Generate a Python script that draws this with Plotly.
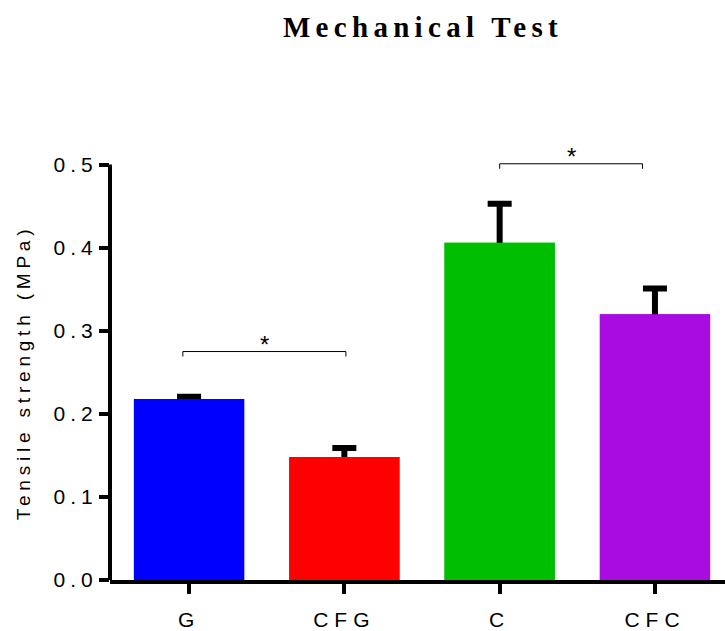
import plotly.graph_objects as go

# ---- data ----
groups = ["G", "CFG", "C", "CFC"]
strength = [0.218, 0.148, 0.406, 0.320]
sem = [0.0025, 0.0108, 0.047, 0.031]
bar_colors = ["#0000FF", "#FF0000", "#00BF00", "#A90CE0"]
y_ticks = [0.0, 0.1, 0.2, 0.3, 0.4, 0.5]
y_tick_labels = ["0.0", "0.1", "0.2", "0.3", "0.4", "0.5"]
# significance brackets (start, end on category positions, level)
sig_x0 = [-0.04, 2.0]
sig_x1 = [1.01, 2.92]
sig_y = [0.275, 0.501]
sig_text = ["*", "*"]

xpos = list(range(len(groups)))
SANS = "Liberation Sans, Arial, sans-serif"


def spaced(t, px):
    return f'<span style="letter-spacing:{px}px">{t}</span>'


fig = go.Figure()
# bars carrying the (upper) error bars
fig.add_trace(go.Bar(
    x=xpos, y=strength, width=0.71,
    marker=dict(color=bar_colors, line=dict(width=0)),
    error_y=dict(type="data", symmetric=False, array=sem,
                 arrayminus=[0.01] * len(sem),
                 color="black", thickness=6, width=12),
    showlegend=False, hoverinfo="skip",
))
# same bars on top so only the upper part of each error bar shows
fig.add_trace(go.Bar(
    x=xpos, y=strength, width=0.71,
    marker=dict(color=bar_colors, line=dict(width=0)),
    showlegend=False,
))

shapes = []
# y axis line (from 0 to 0.5)
shapes.append(dict(type="line", xref="paper", yref="y", x0=0, x1=0,
                   y0=0, y1=max(y_ticks), line=dict(color="black", width=4)))
annotations = []
for a, b, lvl, txt in zip(sig_x0, sig_x1, sig_y, sig_text):
    shapes.append(dict(type="path", xref="x", yref="y",
                       path=f"M {a},{lvl - 0.006} L {a},{lvl} L {b},{lvl} L {b},{lvl - 0.006}",
                       line=dict(color="black", width=1)))
    annotations.append(dict(x=(a + b) / 2, y=lvl, xref="x", yref="y",
                            text=txt, showarrow=False, yanchor="middle",
                            yshift=7, font=dict(family=SANS, size=24, color="black")))

annotations.append(dict(
    x=0, xref="paper", xshift=-87, y=0.25, yref="y",
    text=spaced("Tensile strength (MPa)", 4.8), textangle=-90,
    showarrow=False, xanchor="center", yanchor="middle",
    font=dict(family=SANS, size=19, color="black")))

fig.update_layout(
    width=725, height=631,
    margin=dict(l=110, r=0, t=148, b=51),
    paper_bgcolor="white", plot_bgcolor="white",
    barmode="overlay",
    title=dict(text=spaced("<b>Mechanical Test</b>", 5.3), x=423 / 725, xanchor="center",
               y=1 - 27 / 631, yanchor="middle",
               font=dict(family="Liberation Serif, Times New Roman, serif", size=29, color="black")),
    xaxis=dict(range=[-0.509, 3.451], tickvals=xpos,
               ticktext=[spaced(g, 6) for g in groups],
               showline=True, linecolor="black", linewidth=4,
               ticks="outside", ticklen=10, tickwidth=4, tickcolor="black",
               ticklabelstandoff=8,
               showgrid=False, zeroline=False,
               tickfont=dict(family=SANS, size=21, color="black")),
    yaxis=dict(range=[0, 0.52], tickvals=y_ticks,
               ticktext=[spaced(t, 5) for t in y_tick_labels],
               showline=False, ticks="outside", ticklen=10, tickwidth=4,
               tickcolor="black", showgrid=False, zeroline=False,
               ticklabelstandoff=-3,
               tickfont=dict(family=SANS, size=21, color="black")),
    shapes=shapes, annotations=annotations,
)

fig.write_html("out.html")
